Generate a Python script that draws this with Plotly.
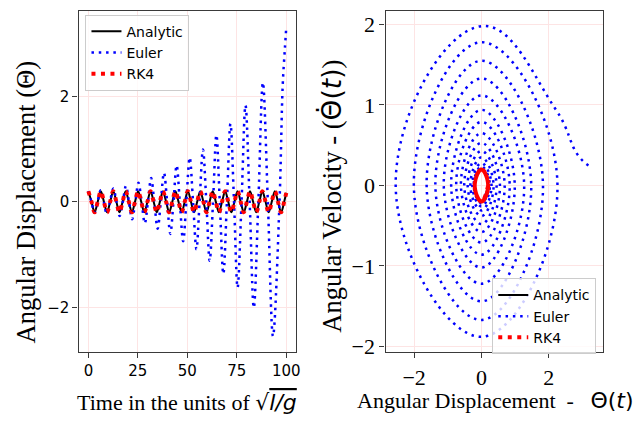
import plotly.graph_objects as go

# --- analytic / RK4 solution, read at quarter periods (theta0 = 0.2) ---
t_analytic = [0, 1.57, 3.14, 4.71, 6.28, 7.85, 9.42, 11.0,
              12.57, 14.14, 15.71, 17.28, 18.85, 20.42, 21.99, 23.56,
              25.13, 26.7, 28.27, 29.85, 31.42, 32.99, 34.56, 36.13,
              37.7, 39.27, 40.84, 42.41, 43.98, 45.55, 47.12, 48.69,
              50.27, 51.84, 53.41, 54.98, 56.55, 58.12, 59.69, 61.26,
              62.83, 64.4, 65.97, 67.54, 69.12, 70.69, 72.26, 73.83,
              75.4, 76.97, 78.54, 80.11, 81.68, 83.25, 84.82, 86.39,
              87.96, 89.54, 91.11, 92.68, 94.25, 95.82, 97.39, 98.96,
              100]
theta_analytic = [0.2, 0, -0.2, 0, 0.2, 0, -0.2, 0,
                  0.2, 0, -0.2, 0, 0.2, 0, -0.2, 0,
                  0.2, 0, -0.2, 0, 0.2, 0, -0.2, 0,
                  0.2, 0, -0.2, 0, 0.2, 0, -0.2, 0,
                  0.2, 0, -0.2, 0, 0.2, 0, -0.2, 0,
                  0.2, 0, -0.2, 0, 0.2, 0, -0.2, 0,
                  0.2, 0, -0.2, 0, 0.2, 0, -0.2, 0,
                  0.2, 0, -0.2, 0, 0.2, 0, -0.2, 0,
                  0.17]
omega_analytic = [0, -0.2, 0, 0.2, 0, -0.2, 0, 0.2,
                  0, -0.2, 0, 0.2, 0, -0.2, 0, 0.2,
                  0, -0.2, 0, 0.2, 0, -0.2, 0, 0.2,
                  0, -0.2, 0, 0.2, 0, -0.2, 0, 0.2,
                  0, -0.2, 0, 0.2, 0, -0.2, 0, 0.2,
                  0, -0.2, 0, 0.2, 0, -0.2, 0, 0.2,
                  0, -0.2, 0, 0.2, 0, -0.2, 0, 0.2,
                  0, -0.2, 0, 0.2, 0, -0.2, 0, 0.2,
                  0.10]

theta_rk4 = [0.2, 0, -0.2, 0, 0.2, 0, -0.2, 0,
             0.2, 0, -0.2, 0, 0.2, 0, -0.2, 0,
             0.2, 0, -0.2, 0, 0.2, 0, -0.2, 0,
             0.2, 0, -0.2, 0, 0.2, 0, -0.2, 0,
             0.2, 0, -0.2, 0, 0.2, 0, -0.2, 0,
             0.2, 0, -0.2, 0, 0.2, 0, -0.2, 0,
             0.2, 0, -0.2, 0, 0.2, 0, -0.2, 0,
             0.2, 0, -0.2, 0, 0.2, 0, -0.2, 0,
             0.17]
omega_rk4 = [0, -0.2, 0, 0.2, 0, -0.2, 0, 0.2,
             0, -0.2, 0, 0.2, 0, -0.2, 0, 0.2,
             0, -0.2, 0, 0.2, 0, -0.2, 0, 0.2,
             0, -0.2, 0, 0.2, 0, -0.2, 0, 0.2,
             0, -0.2, 0, 0.2, 0, -0.2, 0, 0.2,
             0, -0.2, 0, 0.2, 0, -0.2, 0, 0.2,
             0, -0.2, 0, 0.2, 0, -0.2, 0, 0.2,
             0, -0.2, 0, 0.2, 0, -0.2, 0, 0.2,
             0.10]

# --- Euler solution: turning points and zero crossings ---
t_euler = [0, 1.55, 3.1, 4.65, 6.2, 7.75, 9.3, 10.9,
           12.6, 14.2, 15.8, 17.4, 19.0, 20.5, 22.1, 23.7,
           25.3, 26.9, 28.5, 30.1, 31.7, 33.3, 35.0, 36.6,
           38.2, 39.8, 41.4, 43.0, 44.6, 46.2, 47.9, 49.5,
           51.2, 52.9, 54.6, 56.2, 57.9, 59.6, 61.3, 63.0,
           64.7, 66.4, 68.2, 70.0, 71.8, 73.6, 75.4, 77.4,
           79.4, 81.5, 83.6, 85.9, 88.2, 90.7, 93.3, 96.6,
           98.2, 99.3, 100]
theta_euler = [0.20, 0, -0.21, 0, 0.22, 0, -0.23, 0,
               0.25, 0, -0.27, 0, 0.30, 0, -0.33, 0,
               0.36, 0, -0.41, 0, 0.45, 0, -0.51, 0,
               0.55, 0, -0.61, 0, 0.69, 0, -0.75, 0,
               0.84, 0, -0.90, 0, 0.99, 0, -1.12, 0,
               1.27, 0, -1.37, 0, 1.48, 0, -1.63, 0,
               1.83, 0, -2.01, 0, 2.26, 0, -2.55, 0,
               2.2, 2.9, 3.3]
omega_euler = [0, -0.20, 0, 0.21, 0, -0.22, 0, 0.24,
               0, -0.26, 0, 0.28, 0, -0.31, 0, 0.35,
               0, -0.38, 0, 0.43, 0, -0.48, 0, 0.53,
               0, -0.58, 0, 0.65, 0, -0.71, 0, 0.79,
               0, -0.86, 0, 0.94, 0, -1.02, 0, 1.12,
               0, -1.22, 0, 1.33, 0, -1.44, 0, 1.55,
               0, -1.67, 0, 1.78, 0, -1.88, 0, 1.98,
               0.95, 0.36, 0.22]

W, H = 641, 425
serif = 'Liberation Serif'
sans = 'DejaVu Sans'

blue_dots = dict(color='blue', width=2.5, dash='2.5px,4.8px', shape='spline')
red_dots = dict(color='red', width=4, dash='4px,5.5px', shape='spline')
black_line = dict(color='black', width=2, shape='spline')

fig = go.Figure()

# left panel: time series
fig.add_trace(go.Scatter(x=t_analytic, y=theta_analytic, mode='lines', name='Analytic',
                         line=black_line, xaxis='x', yaxis='y', legend='legend'))
fig.add_trace(go.Scatter(x=t_euler, y=theta_euler, mode='lines', name='Euler',
                         line=blue_dots, xaxis='x', yaxis='y', legend='legend'))
fig.add_trace(go.Scatter(x=t_analytic, y=theta_rk4, mode='lines', name='RK4',
                         line=red_dots, xaxis='x', yaxis='y', legend='legend'))

# right panel: phase space
fig.add_trace(go.Scatter(x=theta_analytic, y=omega_analytic, mode='lines', name='Analytic',
                         line=dict(black_line, smoothing=1.3), xaxis='x2', yaxis='y2', legend='legend2'))
fig.add_trace(go.Scatter(x=theta_euler, y=omega_euler, mode='lines', name='Euler',
                         line=dict(blue_dots, smoothing=1.3), xaxis='x2', yaxis='y2', legend='legend2'))
fig.add_trace(go.Scatter(x=theta_rk4, y=omega_rk4, mode='lines', name='RK4',
                         line=dict(red_dots, smoothing=1.3), xaxis='x2', yaxis='y2', legend='legend2'))

ydom = [1 - 358 / H, 1 - 11 / H]
axis_common = dict(showgrid=True, gridcolor='#fde4e4', gridwidth=1, zeroline=False,
                   showline=True, mirror=True, linecolor='#3a3a3a', linewidth=1.3,
                   ticks='outside', ticklen=5, tickwidth=1.2, tickcolor='#3a3a3a')

legend_common = dict(bgcolor='rgba(255,255,255,0.8)', bordercolor='#cccccc', borderwidth=1,
                     font=dict(family=sans, size=14, color='black'), itemwidth=30,
                     tracegroupgap=0)

fig.update_layout(
    width=W, height=H,
    margin=dict(l=0, r=0, t=0, b=0),
    paper_bgcolor='white', plot_bgcolor='white',
    xaxis=dict(axis_common, domain=[79 / W, 298 / W], range=[-5, 105],
               tickvals=[0, 25, 50, 75, 100], anchor='y',
               tickfont=dict(family=sans, size=15, color='black')),
    yaxis=dict(axis_common, domain=ydom, range=[-2.85, 3.62],
               tickvals=[-2, 0, 2], anchor='x',
               tickfont=dict(family=sans, size=15, color='black')),
    xaxis2=dict(axis_common, domain=[388 / W, 607 / W], range=[-2.85, 3.62],
                tickvals=[-2, 0, 2], anchor='y2',
                tickfont=dict(family=serif, size=22, color='black')),
    yaxis2=dict(axis_common, domain=ydom, range=[-2.07, 2.17],
                tickvals=[-2, -1, 0, 1, 2], anchor='x2',
                tickfont=dict(family=serif, size=22, color='black')),
    legend=dict(legend_common, x=86 / W, y=1 - 15 / H, xanchor='left', yanchor='top'),
    legend2=dict(legend_common, x=600 / W, y=1 - 283 / H, xanchor='right', yanchor='top'),
)

xt_font = dict(family=serif, size=22, color='black')
yt_font = dict(family=serif, size=26.5, color='black')
fig.add_annotation(x=188.5 / W, y=1 - 409 / H, xref='paper', yref='paper', showarrow=False,
                   xanchor='center', yanchor='middle',
                   text="Time in the units of <span style='font-family:DejaVu Sans'>√"
                        "<span style='text-decoration:overline'><i>l/g</i></span></span>",
                   font=xt_font)
fig.add_annotation(x=499 / W, y=1 - 407 / H, xref='paper', yref='paper', showarrow=False,
                   xanchor='center', yanchor='middle',
                   text="Angular Displacement\u00a0\u00a0-\u00a0\u00a0\u00a0"
                        "<span style='font-family:DejaVu Sans'>Θ(<i>t</i>)</span>",
                   font=xt_font)
fig.add_annotation(x=26 / W, y=1 - 205 / H, xref='paper', yref='paper', showarrow=False,
                   xanchor='center', yanchor='middle',
                   textangle=-90, text="Angular Displacement (Θ)", font=yt_font)
fig.add_annotation(x=334 / W, y=1 - 199 / H, xref='paper', yref='paper', showarrow=False,
                   xanchor='center', yanchor='middle', textangle=-90,
                   text="Angular Velocity - (<span style='font-family:DejaVu Sans'>Θ(<i>t</i>)</span>)",
                   font=yt_font)
# time-derivative dot over the Θ of the velocity label
fig.add_annotation(x=320 / W, y=1 - 111.5 / H, xref='paper', yref='paper', showarrow=False,
                   xanchor='center', yanchor='middle', textangle=-90, text="·",
                   font=dict(family=sans, size=24, color='black'))

# the page body has a default 8px margin; drop it so the figure sits at the window corner
fig.write_html("out.html", config={'displayModeBar': False},
               post_script="document.body.style.margin='0';")
